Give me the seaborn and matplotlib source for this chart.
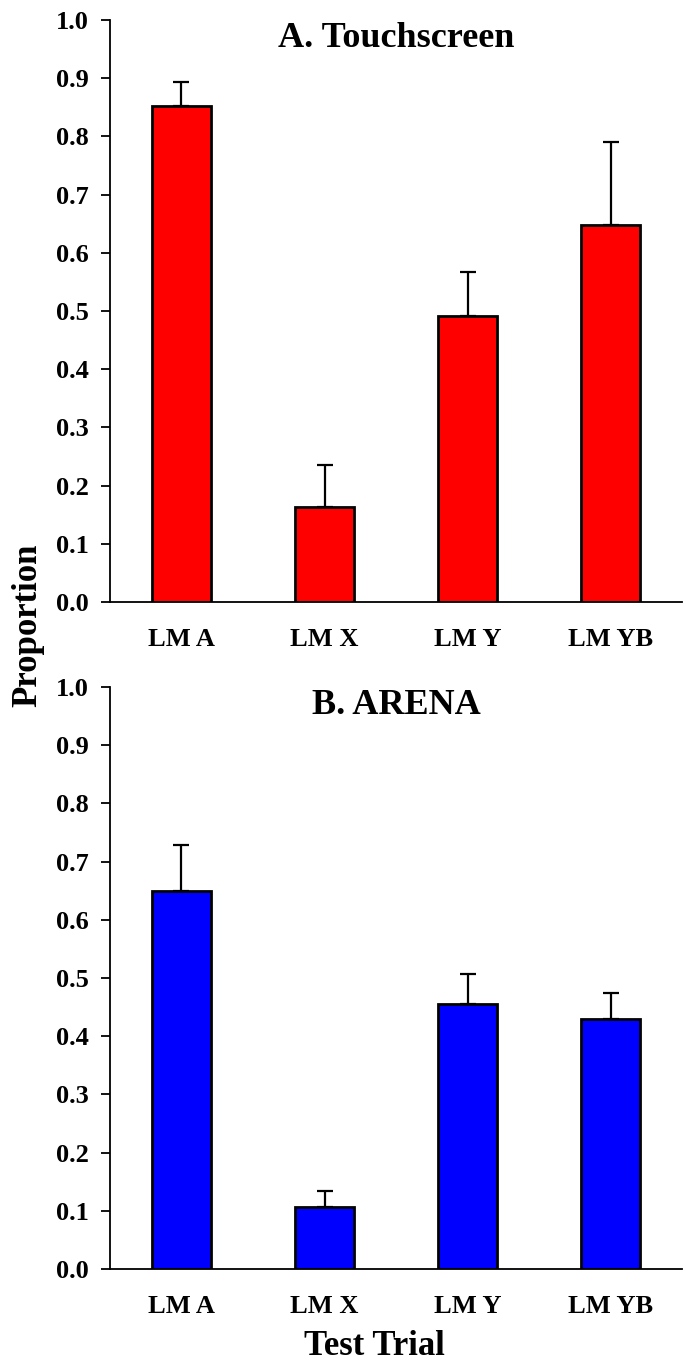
import numpy as np
import pandas as pd
import matplotlib
matplotlib.use("Agg")
import matplotlib.pyplot as plt
import seaborn as sns

trials = ["LM A", "LM X", "LM Y", "LM YB"]
touch_mean = [0.852, 0.163, 0.491, 0.648]
touch_err = [0.042, 0.072, 0.076, 0.142]
arena_mean = [0.650, 0.107, 0.455, 0.430]
arena_err = [0.079, 0.027, 0.052, 0.044]

sns.set_style("white")
plt.rcParams["font.family"] = ["Liberation Serif", "DejaVu Serif"]
plt.rcParams["font.weight"] = "bold"
plt.rcParams["text.color"] = "black"
plt.rcParams["xtick.color"] = "black"
plt.rcParams["ytick.color"] = "black"

fig = plt.figure(figsize=(6.86, 13.66), dpi=100)
ax_top = fig.add_axes([0.1603, 0.5593, 0.834, 0.426])
ax_bot = fig.add_axes([0.1603, 0.0710, 0.834, 0.426])


def panel(ax, means, errs, color, title):
    df = pd.DataFrame({"trial": trials, "prop": means})
    sns.barplot(data=df, x="trial", y="prop", color=color, width=0.41,
                edgecolor="black", linewidth=2, saturation=1, errorbar=None, ax=ax)
    ax.errorbar(np.arange(len(trials)), means, yerr=[np.zeros(len(errs)), errs],
                fmt="none", ecolor="black", elinewidth=1.6, capsize=5.5, capthick=1.6)
    ax.set_xlim(-0.5, 3.5)
    ax.set_ylim(0, 1.0)
    ax.set_yticks(np.arange(0, 1.01, 0.1))
    ax.set_yticklabels([f"{v:.1f}" for v in np.arange(0, 1.01, 0.1)],
                       fontsize=19, fontweight="bold")
    ax.set_xticks(np.arange(len(trials)))
    ax.set_xticklabels(trials, fontsize=19, fontweight="bold")
    ax.set_xticks(np.arange(-0.5, 3.6, 1.0), minor=True)
    ax.tick_params(axis="x", which="major", length=0, pad=19)
    ax.tick_params(axis="x", which="minor", length=7, width=1.3, direction="out",
                   color="black")
    ax.tick_params(axis="y", length=6.5, width=1.3, direction="out", pad=9,
                   left=True, color="black")
    ax.set_xlabel("")
    ax.set_ylabel("")
    for s in ["top", "right"]:
        ax.spines[s].set_visible(False)
    for s in ["left", "bottom"]:
        ax.spines[s].set_color("black")
        ax.spines[s].set_linewidth(1.3)
    ax.text(0.5, 0.968, title, transform=ax.transAxes, ha="center", va="center",
            fontsize=26, fontweight="bold")


panel(ax_top, touch_mean, touch_err, "#ff0000", "A. Touchscreen")
panel(ax_bot, arena_mean, arena_err, "#0000ff", "B. ARENA")

fig.text(0.040, 0.542, "Proportion", rotation=90, ha="center", va="center",
         fontsize=25, fontweight="bold")
fig.text(0.546, 0.008, "Test Trial", ha="center", va="baseline",
         fontsize=25, fontweight="bold")

fig.savefig("out.png", dpi=100)
